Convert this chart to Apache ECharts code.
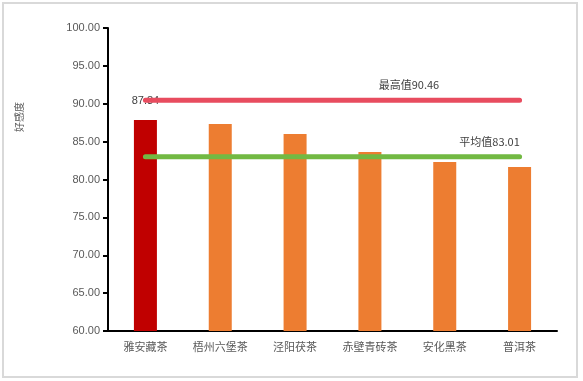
<!DOCTYPE html>
<html>
<head>
<meta charset="utf-8">
<script src="https://cdn.jsdelivr.net/npm/echarts@6/dist/echarts.min.js"></script>
<style>
  html, body { margin: 0; padding: 0; background: #fff; }
  #chart { width: 583px; height: 381px; }
</style>
</head>
<body>
<div id="chart"></div>
<script>
// Tea favourability scores
const categories = ['雅安藏茶', '梧州六堡茶', '泾阳茯茶', '赤壁青砖茶', '安化黑茶', '普洱茶'];
const scores = [87.84, 87.33, 86.0, 83.63, 82.31, 81.65];
const maxValue = 90.46;
const avgValue = 83.01;
const yTicks = { min: 60, max: 100, interval: 5 };

const barColors = ['#C00000', '#ED7D31', '#ED7D31', '#ED7D31', '#ED7D31', '#ED7D31'];
const labelFont = '"Noto Sans CJK SC", "Liberation Sans", sans-serif';

const chart = echarts.init(document.getElementById('chart'), null, { renderer: 'canvas' });

// Constant reference line across all categories, labelled at one point
const makeLineData = (value, idx, text, offset) => categories.map((c, i) => i === idx ? {
  value: value,
  label: {
    show: true,
    position: 'top',
    distance: 9,
    offset: offset,
    formatter: text,
    color: '#404040',
    fontSize: 11,
    fontFamily: labelFont
  }
} : value);

const option = {
  backgroundColor: '#fff',
  animation: false,
  grid: { left: 108, right: 26, top: 28, bottom: 50 },
  xAxis: {
    type: 'category',
    data: categories,
    axisLine: { lineStyle: { color: '#000', width: 2 } },
    axisTick: { show: false },
    axisLabel: { color: '#595959', fontSize: 11, margin: 10, fontFamily: labelFont }
  },
  yAxis: {
    type: 'value',
    min: yTicks.min,
    max: yTicks.max,
    interval: yTicks.interval,
    axisLine: { show: true, lineStyle: { color: '#000', width: 2 } },
    axisTick: { show: true, length: 5, lineStyle: { color: '#000', width: 2 } },
    splitLine: { show: false },
    axisLabel: {
      color: '#595959', fontSize: 11, margin: 8,
      fontFamily: '"Liberation Sans", sans-serif',
      formatter: v => v.toFixed(2)
    }
  },
  series: [
    {
      type: 'bar',
      barWidth: 23,
      z: 2,
      data: scores.map((v, i) => ({
        value: v,
        itemStyle: { color: barColors[i] },
        label: i === 0 ? {
          show: true, position: 'top', distance: 14,
          color: '#404040', fontSize: 11, fontFamily: '"Liberation Sans", sans-serif'
        } : { show: false }
      }))
    },
    {
      type: 'line',
      z: 5,
      symbol: 'circle',
      symbolSize: 1,
      silent: true,
      itemStyle: { color: '#E84C5F' },
      lineStyle: { color: '#E84C5F', width: 5, cap: 'round' },
      data: makeLineData(maxValue, 3, '最高值' + maxValue.toFixed(2), [39, 0])
    },
    {
      type: 'line',
      z: 5,
      symbol: 'circle',
      symbolSize: 1,
      silent: true,
      itemStyle: { color: '#72B943' },
      lineStyle: { color: '#72B943', width: 5, cap: 'round' },
      data: makeLineData(avgValue, 5, '平均值' + avgValue.toFixed(2), [-30, 0])
    }
  ],
  graphic: [
    {
      type: 'rect',
      shape: { x: 3, y: 3, width: 574, height: 374 },
      style: { fill: null, stroke: '#D9D9D9', lineWidth: 2 },
      silent: true
    },
    {
      type: 'text',
      x: 19, y: 117,
      rotation: Math.PI / 2,
      style: {
        text: '好感度',
        fill: '#595959',
        font: '10px "Noto Sans CJK SC", serif',
        textAlign: 'center',
        textVerticalAlign: 'middle'
      },
      silent: true
    }
  ]
};

chart.setOption(option);
</script>
</body>
</html>
